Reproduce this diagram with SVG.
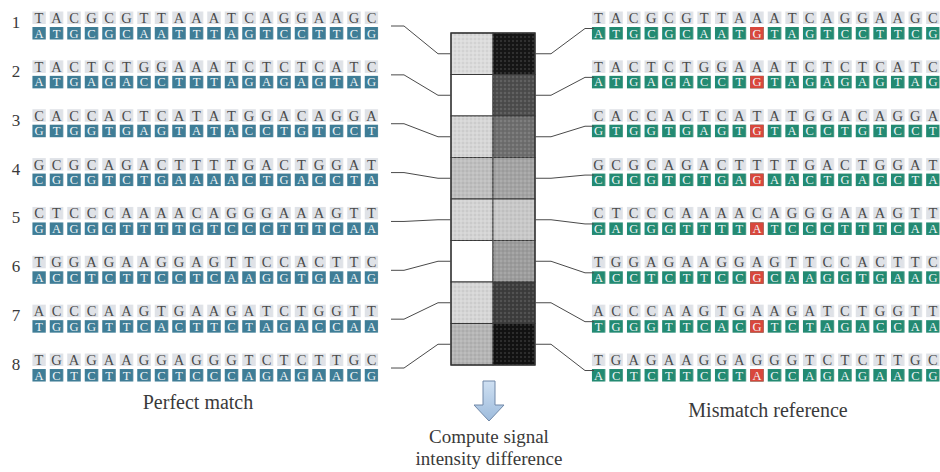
<svg xmlns="http://www.w3.org/2000/svg" width="940" height="472" viewBox="0 0 940 472">
<style>
.num{font-family:"Liberation Serif",serif;font-size:17px;fill:#3a3a3a;text-anchor:middle}
.top{font-family:"Liberation Serif",serif;font-size:14.5px;fill:#4a4a4a;text-anchor:middle}
.bot{font-family:"Liberation Serif",serif;font-size:12.5px;fill:#f2f6f8;text-anchor:middle}
.lbl{font-family:"Liberation Serif",serif;font-size:20px;fill:#3a3a3a;text-anchor:middle}
.lbl2{font-family:"Liberation Serif",serif;font-size:19px;fill:#3a3a3a;text-anchor:middle}
.con{fill:none;stroke:#4a4a4a;stroke-width:1}
.cell{stroke:#3a3a3a;stroke-width:1}
</style>
<defs>
<pattern id="tl" patternUnits="userSpaceOnUse" x="32.25" y="0" width="17.5" height="472"><rect width="13.5" height="472" fill="#dfe2e7"/></pattern>
<pattern id="bl" patternUnits="userSpaceOnUse" x="32.25" y="0" width="17.5" height="472"><rect width="13.5" height="472" fill="#3f7d96"/></pattern>
<pattern id="tr" patternUnits="userSpaceOnUse" x="591.75" y="0" width="17.6" height="472"><rect width="13.5" height="472" fill="#dfe2e7"/></pattern>
<pattern id="br" patternUnits="userSpaceOnUse" x="591.75" y="0" width="17.6" height="472"><rect width="13.5" height="472" fill="#238a72"/></pattern>
<pattern id="dots" patternUnits="userSpaceOnUse" width="4" height="4"><circle cx="1" cy="1" r="0.8" fill="#fff" fill-opacity="0.25"/><circle cx="3" cy="3" r="0.8" fill="#000" fill-opacity="0.1"/></pattern>
<linearGradient id="ag" x1="0" y1="0" x2="0" y2="1"><stop offset="0" stop-color="#cfe0f2"/><stop offset="1" stop-color="#9dbbdc"/></linearGradient>
</defs>
<rect width="940" height="472" fill="#ffffff"/>

<!-- Left: perfect match probes -->
<g id="left-probe-1">
<text class="num" x="16" y="28">1</text>
<rect x="32.25" y="11.5" width="346" height="12.5" fill="url(#tl)"/>
<text class="top" y="23" x="39 56.5 74 91.5 109 126.5 144 161.5 179 196.5 214 231.5 249 266.5 284 301.5 319 336.5 354 371.5">TACGCGTTAAATCAGGAAGC</text>
<rect x="32.25" y="27" width="346" height="12.5" fill="url(#bl)"/>
<text class="bot" y="37.5" x="39 56.5 74 91.5 109 126.5 144 161.5 179 196.5 214 231.5 249 266.5 284 301.5 319 336.5 354 371.5">ATGCGCAATTTAGTCCTTCG</text>
</g>
<g id="left-probe-2" transform="translate(0,48.86)">
<text class="num" x="16" y="28">2</text>
<rect x="32.25" y="11.5" width="346" height="12.5" fill="url(#tl)"/>
<text class="top" y="23" x="39 56.5 74 91.5 109 126.5 144 161.5 179 196.5 214 231.5 249 266.5 284 301.5 319 336.5 354 371.5">TACTCTGGAAATCTCTCATC</text>
<rect x="32.25" y="27" width="346" height="12.5" fill="url(#bl)"/>
<text class="bot" y="37.5" x="39 56.5 74 91.5 109 126.5 144 161.5 179 196.5 214 231.5 249 266.5 284 301.5 319 336.5 354 371.5">ATGAGACCTTTAGAGAGTAG</text>
</g>
<g id="left-probe-3" transform="translate(0,97.72)">
<text class="num" x="16" y="28">3</text>
<rect x="32.25" y="11.5" width="346" height="12.5" fill="url(#tl)"/>
<text class="top" y="23" x="39 56.5 74 91.5 109 126.5 144 161.5 179 196.5 214 231.5 249 266.5 284 301.5 319 336.5 354 371.5">CACCACTCATATGGACAGGA</text>
<rect x="32.25" y="27" width="346" height="12.5" fill="url(#bl)"/>
<text class="bot" y="37.5" x="39 56.5 74 91.5 109 126.5 144 161.5 179 196.5 214 231.5 249 266.5 284 301.5 319 336.5 354 371.5">GTGGTGAGTATACCTGTCCT</text>
</g>
<g id="left-probe-4" transform="translate(0,146.58)">
<text class="num" x="16" y="28">4</text>
<rect x="32.25" y="11.5" width="346" height="12.5" fill="url(#tl)"/>
<text class="top" y="23" x="39 56.5 74 91.5 109 126.5 144 161.5 179 196.5 214 231.5 249 266.5 284 301.5 319 336.5 354 371.5">GCGCAGACTTTTGACTGGAT</text>
<rect x="32.25" y="27" width="346" height="12.5" fill="url(#bl)"/>
<text class="bot" y="37.5" x="39 56.5 74 91.5 109 126.5 144 161.5 179 196.5 214 231.5 249 266.5 284 301.5 319 336.5 354 371.5">CGCGTCTGAAAACTGACCTA</text>
</g>
<g id="left-probe-5" transform="translate(0,195.44)">
<text class="num" x="16" y="28">5</text>
<rect x="32.25" y="11.5" width="346" height="12.5" fill="url(#tl)"/>
<text class="top" y="23" x="39 56.5 74 91.5 109 126.5 144 161.5 179 196.5 214 231.5 249 266.5 284 301.5 319 336.5 354 371.5">CTCCCAAAACAGGGAAAGTT</text>
<rect x="32.25" y="27" width="346" height="12.5" fill="url(#bl)"/>
<text class="bot" y="37.5" x="39 56.5 74 91.5 109 126.5 144 161.5 179 196.5 214 231.5 249 266.5 284 301.5 319 336.5 354 371.5">GAGGGTTTTGTCCCTTTCAA</text>
</g>
<g id="left-probe-6" transform="translate(0,244.3)">
<text class="num" x="16" y="28">6</text>
<rect x="32.25" y="11.5" width="346" height="12.5" fill="url(#tl)"/>
<text class="top" y="23" x="39 56.5 74 91.5 109 126.5 144 161.5 179 196.5 214 231.5 249 266.5 284 301.5 319 336.5 354 371.5">TGGAGAAGGAGTTCCACTTC</text>
<rect x="32.25" y="27" width="346" height="12.5" fill="url(#bl)"/>
<text class="bot" y="37.5" x="39 56.5 74 91.5 109 126.5 144 161.5 179 196.5 214 231.5 249 266.5 284 301.5 319 336.5 354 371.5">ACCTCTTCCTCAAGGTGAAG</text>
</g>
<g id="left-probe-7" transform="translate(0,293.16)">
<text class="num" x="16" y="28">7</text>
<rect x="32.25" y="11.5" width="346" height="12.5" fill="url(#tl)"/>
<text class="top" y="23" x="39 56.5 74 91.5 109 126.5 144 161.5 179 196.5 214 231.5 249 266.5 284 301.5 319 336.5 354 371.5">ACCCAAGTGAAGATCTGGTT</text>
<rect x="32.25" y="27" width="346" height="12.5" fill="url(#bl)"/>
<text class="bot" y="37.5" x="39 56.5 74 91.5 109 126.5 144 161.5 179 196.5 214 231.5 249 266.5 284 301.5 319 336.5 354 371.5">TGGGTTCACTTCTAGACCAA</text>
</g>
<g id="left-probe-8" transform="translate(0,342.02)">
<text class="num" x="16" y="28">8</text>
<rect x="32.25" y="11.5" width="346" height="12.5" fill="url(#tl)"/>
<text class="top" y="23" x="39 56.5 74 91.5 109 126.5 144 161.5 179 196.5 214 231.5 249 266.5 284 301.5 319 336.5 354 371.5">TGAGAAGGAGGGTCTCTTGC</text>
<rect x="32.25" y="27" width="346" height="12.5" fill="url(#bl)"/>
<text class="bot" y="37.5" x="39 56.5 74 91.5 109 126.5 144 161.5 179 196.5 214 231.5 249 266.5 284 301.5 319 336.5 354 371.5">ACTCTTCCTCCCAGAGAACG</text>
</g>

<!-- Right: mismatch probes -->
<g id="right-probe-1">
<rect x="591.75" y="11.5" width="347.9" height="12.5" fill="url(#tr)"/>
<text class="top" y="23" x="598.5 616.1 633.7 651.3 668.9 686.5 704.1 721.7 739.3 756.9 774.5 792.1 809.7 827.3 844.9 862.5 880.1 897.7 915.3 932.9">TACGCGTTAAATCAGGAAGC</text>
<rect x="591.75" y="27" width="347.9" height="12.5" fill="url(#br)"/>
<rect x="750.15" y="27" width="13.5" height="12.5" fill="#d9473c"/>
<text class="bot" y="37.5" x="598.5 616.1 633.7 651.3 668.9 686.5 704.1 721.7 739.3 756.9 774.5 792.1 809.7 827.3 844.9 862.5 880.1 897.7 915.3 932.9">ATGCGCAATGTAGTCCTTCG</text>
</g>
<g id="right-probe-2" transform="translate(0,48.86)">
<rect x="591.75" y="11.5" width="347.9" height="12.5" fill="url(#tr)"/>
<text class="top" y="23" x="598.5 616.1 633.7 651.3 668.9 686.5 704.1 721.7 739.3 756.9 774.5 792.1 809.7 827.3 844.9 862.5 880.1 897.7 915.3 932.9">TACTCTGGAAATCTCTCATC</text>
<rect x="591.75" y="27" width="347.9" height="12.5" fill="url(#br)"/>
<rect x="750.15" y="27" width="13.5" height="12.5" fill="#d9473c"/>
<text class="bot" y="37.5" x="598.5 616.1 633.7 651.3 668.9 686.5 704.1 721.7 739.3 756.9 774.5 792.1 809.7 827.3 844.9 862.5 880.1 897.7 915.3 932.9">ATGAGACCTGTAGAGAGTAG</text>
</g>
<g id="right-probe-3" transform="translate(0,97.72)">
<rect x="591.75" y="11.5" width="347.9" height="12.5" fill="url(#tr)"/>
<text class="top" y="23" x="598.5 616.1 633.7 651.3 668.9 686.5 704.1 721.7 739.3 756.9 774.5 792.1 809.7 827.3 844.9 862.5 880.1 897.7 915.3 932.9">CACCACTCATATGGACAGGA</text>
<rect x="591.75" y="27" width="347.9" height="12.5" fill="url(#br)"/>
<rect x="750.15" y="27" width="13.5" height="12.5" fill="#d9473c"/>
<text class="bot" y="37.5" x="598.5 616.1 633.7 651.3 668.9 686.5 704.1 721.7 739.3 756.9 774.5 792.1 809.7 827.3 844.9 862.5 880.1 897.7 915.3 932.9">GTGGTGAGTGTACCTGTCCT</text>
</g>
<g id="right-probe-4" transform="translate(0,146.58)">
<rect x="591.75" y="11.5" width="347.9" height="12.5" fill="url(#tr)"/>
<text class="top" y="23" x="598.5 616.1 633.7 651.3 668.9 686.5 704.1 721.7 739.3 756.9 774.5 792.1 809.7 827.3 844.9 862.5 880.1 897.7 915.3 932.9">GCGCAGACTTTTGACTGGAT</text>
<rect x="591.75" y="27" width="347.9" height="12.5" fill="url(#br)"/>
<rect x="750.15" y="27" width="13.5" height="12.5" fill="#d9473c"/>
<text class="bot" y="37.5" x="598.5 616.1 633.7 651.3 668.9 686.5 704.1 721.7 739.3 756.9 774.5 792.1 809.7 827.3 844.9 862.5 880.1 897.7 915.3 932.9">CGCGTCTGAGAACTGACCTA</text>
</g>
<g id="right-probe-5" transform="translate(0,195.44)">
<rect x="591.75" y="11.5" width="347.9" height="12.5" fill="url(#tr)"/>
<text class="top" y="23" x="598.5 616.1 633.7 651.3 668.9 686.5 704.1 721.7 739.3 756.9 774.5 792.1 809.7 827.3 844.9 862.5 880.1 897.7 915.3 932.9">CTCCCAAAACAGGGAAAGTT</text>
<rect x="591.75" y="27" width="347.9" height="12.5" fill="url(#br)"/>
<rect x="750.15" y="27" width="13.5" height="12.5" fill="#d9473c"/>
<text class="bot" y="37.5" x="598.5 616.1 633.7 651.3 668.9 686.5 704.1 721.7 739.3 756.9 774.5 792.1 809.7 827.3 844.9 862.5 880.1 897.7 915.3 932.9">GAGGGTTTTATCCCTTTCAA</text>
</g>
<g id="right-probe-6" transform="translate(0,244.3)">
<rect x="591.75" y="11.5" width="347.9" height="12.5" fill="url(#tr)"/>
<text class="top" y="23" x="598.5 616.1 633.7 651.3 668.9 686.5 704.1 721.7 739.3 756.9 774.5 792.1 809.7 827.3 844.9 862.5 880.1 897.7 915.3 932.9">TGGAGAAGGAGTTCCACTTC</text>
<rect x="591.75" y="27" width="347.9" height="12.5" fill="url(#br)"/>
<rect x="750.15" y="27" width="13.5" height="12.5" fill="#d9473c"/>
<text class="bot" y="37.5" x="598.5 616.1 633.7 651.3 668.9 686.5 704.1 721.7 739.3 756.9 774.5 792.1 809.7 827.3 844.9 862.5 880.1 897.7 915.3 932.9">ACCTCTTCCGCAAGGTGAAG</text>
</g>
<g id="right-probe-7" transform="translate(0,293.16)">
<rect x="591.75" y="11.5" width="347.9" height="12.5" fill="url(#tr)"/>
<text class="top" y="23" x="598.5 616.1 633.7 651.3 668.9 686.5 704.1 721.7 739.3 756.9 774.5 792.1 809.7 827.3 844.9 862.5 880.1 897.7 915.3 932.9">ACCCAAGTGAAGATCTGGTT</text>
<rect x="591.75" y="27" width="347.9" height="12.5" fill="url(#br)"/>
<rect x="750.15" y="27" width="13.5" height="12.5" fill="#d9473c"/>
<text class="bot" y="37.5" x="598.5 616.1 633.7 651.3 668.9 686.5 704.1 721.7 739.3 756.9 774.5 792.1 809.7 827.3 844.9 862.5 880.1 897.7 915.3 932.9">TGGGTTCACGTCTAGACCAA</text>
</g>
<g id="right-probe-8" transform="translate(0,342.02)">
<rect x="591.75" y="11.5" width="347.9" height="12.5" fill="url(#tr)"/>
<text class="top" y="23" x="598.5 616.1 633.7 651.3 668.9 686.5 704.1 721.7 739.3 756.9 774.5 792.1 809.7 827.3 844.9 862.5 880.1 897.7 915.3 932.9">TGAGAAGGAGGGTCTCTTGC</text>
<rect x="591.75" y="27" width="347.9" height="12.5" fill="url(#br)"/>
<rect x="750.15" y="27" width="13.5" height="12.5" fill="#d9473c"/>
<text class="bot" y="37.5" x="598.5 616.1 633.7 651.3 668.9 686.5 704.1 721.7 739.3 756.9 774.5 792.1 809.7 827.3 844.9 862.5 880.1 897.7 915.3 932.9">ACTCTTCCTACCAGAGAACG</text>
</g>

<!-- Central array -->
<g id="array">
<rect class="cell" x="451" y="33" width="42" height="41.5" fill="#dcdcdc"/>
<rect class="cell" x="493" y="33" width="42" height="41.5" fill="#161616"/>
<rect class="cell" x="451" y="74.5" width="42" height="41.5" fill="#ffffff"/>
<rect class="cell" x="493" y="74.5" width="42" height="41.5" fill="#4d4d4d"/>
<rect class="cell" x="451" y="116" width="42" height="41.5" fill="#d6d6d6"/>
<rect class="cell" x="493" y="116" width="42" height="41.5" fill="#6e6e6e"/>
<rect class="cell" x="451" y="157.5" width="42" height="41.5" fill="#bfbfbf"/>
<rect class="cell" x="493" y="157.5" width="42" height="41.5" fill="#a3a3a3"/>
<rect class="cell" x="451" y="199" width="42" height="41.5" fill="#d4d4d4"/>
<rect class="cell" x="493" y="199" width="42" height="41.5" fill="#c8c8c8"/>
<rect class="cell" x="451" y="240.5" width="42" height="41.5" fill="#ffffff"/>
<rect class="cell" x="493" y="240.5" width="42" height="41.5" fill="#9c9c9c"/>
<rect class="cell" x="451" y="282" width="42" height="41.5" fill="#d6d6d6"/>
<rect class="cell" x="493" y="282" width="42" height="41.5" fill="#3d3d3d"/>
<rect class="cell" x="451" y="323.5" width="42" height="41.5" fill="#b5b5b5"/>
<rect class="cell" x="493" y="323.5" width="42" height="41.5" fill="#121212"/>
<rect x="451" y="33" width="42" height="41.5" fill="url(#dots)"/>
<rect x="493" y="33" width="42" height="332" fill="url(#dots)"/>
<rect x="451" y="116" width="42" height="124.5" fill="url(#dots)"/>
<rect x="451" y="282" width="42" height="83" fill="url(#dots)"/>
<rect x="451" y="33" width="84" height="332" fill="none" stroke="#333" stroke-width="1.3"/>
</g>

<!-- Connectors -->
<g id="connectors">
<path class="con" d="M391 26 H404 L438 53.75 H451"/>
<path class="con" d="M391 74.86 H404 L438 95.25 H451"/>
<path class="con" d="M391 123.72 H404 L438 136.75 H451"/>
<path class="con" d="M391 172.58 H404 L438 178.25 H451"/>
<path class="con" d="M391 221.44 H404 L438 219.75 H451"/>
<path class="con" d="M391 270.3 H404 L438 261.25 H451"/>
<path class="con" d="M391 319.16 H404 L438 302.75 H451"/>
<path class="con" d="M391 368.02 H404 L438 344.25 H451"/>
<path class="con" d="M535 53.75 H551 L585 28.5 H594"/>
<path class="con" d="M535 95.25 H551 L585 77.36 H594"/>
<path class="con" d="M535 136.75 H551 L585 126.22 H594"/>
<path class="con" d="M535 178.25 H551 L585 175.08 H594"/>
<path class="con" d="M535 219.75 H551 L585 223.94 H594"/>
<path class="con" d="M535 261.25 H551 L585 272.8 H594"/>
<path class="con" d="M535 302.75 H551 L585 321.66 H594"/>
<path class="con" d="M535 344.25 H551 L585 370.52 H594"/>
</g>

<g id="arrow">
<path d="M483 381 H495 V405 H504 L489 421 L474 405 H483 Z" fill="url(#ag)" stroke="#7088a8" stroke-width="1"/>
</g>

<g id="labels">
<text class="lbl" x="198" y="409">Perfect match</text>
<text class="lbl" x="768" y="417">Mismatch reference</text>
<text class="lbl2" x="489" y="443">Compute signal</text>
<text class="lbl2" x="489" y="465">intensity difference</text>
</g>
</svg>
